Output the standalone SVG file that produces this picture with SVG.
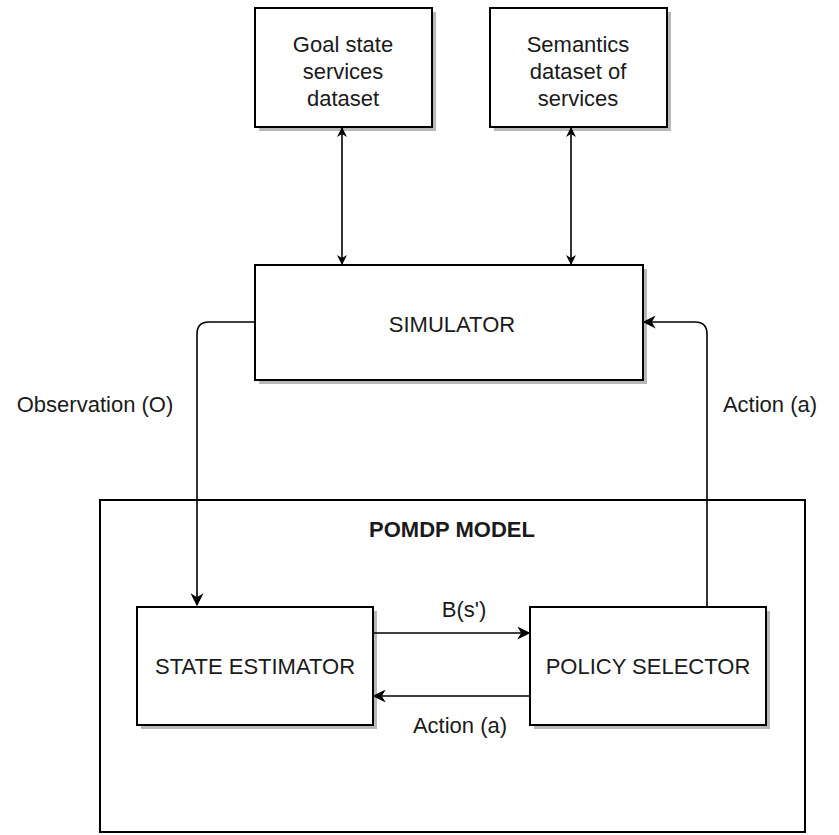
<svg xmlns="http://www.w3.org/2000/svg" width="839" height="835" viewBox="0 0 839 835">
<style>
.box{fill:#fff;stroke:#000;stroke-width:2}
.sh{fill:#b8b8b8}
.t{font-family:"Liberation Sans",Arial,sans-serif;font-size:22px;fill:#1a1a1a;text-anchor:middle}
.b{font-weight:bold}
.c{fill:none;stroke:#000;stroke-width:1.6}
</style>
<defs>
<marker id="ah" viewBox="0 0 10 10" refX="9" refY="5" markerWidth="10" markerHeight="10" markerUnits="userSpaceOnUse" orient="auto-start-reverse"><path d="M0,0 L10,5 L0,10 L3,5 Z" fill="#000"/></marker>
<marker id="ah2" viewBox="0 0 10 10" refX="9" refY="5" markerWidth="13" markerHeight="13" markerUnits="userSpaceOnUse" orient="auto-start-reverse"><path d="M0,0 L10,5 L0,10 L3,5 Z" fill="#000"/></marker>
</defs>
<g id="pomdp">
<rect class="box" x="100" y="500" width="705" height="332" stroke-width="1.6"/>
<text class="t b" x="452" y="537">POMDP MODEL</text>
</g>
<g id="goal">
<rect class="sh" x="259" y="12" width="177" height="119"/>
<rect class="box" x="255" y="8" width="177" height="119"/>
<text class="t" x="343" y="52">Goal state</text>
<text class="t" x="343" y="79">services</text>
<text class="t" x="343" y="106">dataset</text>
</g>
<g id="semantics">
<rect class="sh" x="494" y="12" width="177" height="119"/>
<rect class="box" x="490" y="8" width="177" height="119"/>
<text class="t" x="578" y="52">Semantics</text>
<text class="t" x="578" y="79">dataset of</text>
<text class="t" x="578" y="106">services</text>
</g>
<g id="simulator">
<rect class="sh" x="259" y="269" width="388" height="115"/>
<rect class="box" x="255" y="265" width="388" height="115"/>
<text class="t" x="452" y="332">SIMULATOR</text>
</g>
<g id="state-estimator">
<rect class="sh" x="141" y="611" width="236" height="118"/>
<rect class="box" x="137" y="607" width="236" height="118"/>
<text class="t" x="255" y="674">STATE ESTIMATOR</text>
</g>
<g id="policy-selector">
<rect class="sh" x="534" y="611" width="236" height="118"/>
<rect class="box" x="530" y="607" width="236" height="118"/>
<text class="t" x="648" y="674">POLICY SELECTOR</text>
</g>
<g id="connectors">
<line class="c" x1="342" y1="128" x2="342" y2="264" marker-start="url(#ah)" marker-end="url(#ah)"/>
<line class="c" x1="571" y1="128" x2="571" y2="264" marker-start="url(#ah)" marker-end="url(#ah)"/>
<path class="c" d="M255,322 H209 Q197,322 197,334 V605" marker-end="url(#ah2)"/>
<path class="c" d="M707,607 V334 Q707,322 695,322 H644" marker-end="url(#ah2)"/>
<line class="c" x1="373" y1="633" x2="529" y2="633" marker-end="url(#ah2)"/>
<line class="c" x1="530" y1="696" x2="374" y2="696" marker-end="url(#ah2)"/>
</g>
<g id="labels">
<text class="t" x="95" y="412">Observation (O)</text>
<text class="t" x="770" y="412">Action (a)</text>
<text class="t" x="464" y="617">B(s')</text>
<text class="t" x="460" y="733">Action (a)</text>
</g>
</svg>
